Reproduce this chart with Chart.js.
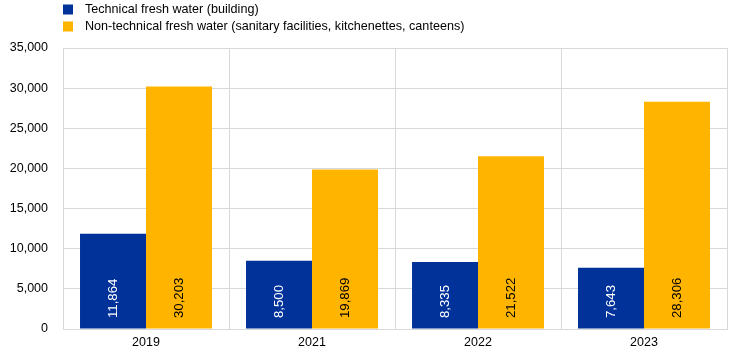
<!DOCTYPE html>
<html><head><meta charset="utf-8">
<script src="https://cdn.jsdelivr.net/npm/chart.js@4"></script>
<style>html,body{margin:0;padding:0;background:#fff}#wrap{width:744px;height:356px}</style>
</head><body><div id="wrap"><canvas id="c"></canvas></div>
<script>
const categories = ["2019", "2021", "2022", "2023"];
const technical = [11864, 8500, 8335, 7643];
const nonTechnical = [30203, 19869, 21522, 28306];
const seriesLabels = ["Technical fresh water (building)", "Non-technical fresh water (sanitary facilities, kitchenettes, canteens)"];
const yTicks = [0, 5000, 10000, 15000, 20000, 25000, 30000, 35000];

const FONT = "'Liberation Sans', Arial, sans-serif";
const fmt = v => v.toLocaleString('en-US');

const legendPlugin = {
  id: 'customLegend',
  afterDraw(chart) {
    const ctx = chart.ctx;
    ctx.save();
    ctx.font = "12.6px " + FONT;
    ctx.textBaseline = 'middle';
    chart.data.datasets.forEach((ds, i) => {
      const y = 9.5 + i * 17;
      ctx.fillStyle = ds.backgroundColor;
      ctx.fillRect(63, y - 5, 10, 10);
      ctx.fillStyle = '#000';
      ctx.textAlign = 'left';
      ctx.fillText(ds.label, 85, y);
    });
    ctx.restore();
  }
};

const labelPlugin = {
  id: 'barLabels',
  afterDatasetsDraw(chart) {
    const ctx = chart.ctx;
    const yScale = chart.scales.y;
    ctx.save();
    ctx.font = "13.2px " + FONT;
    ctx.textBaseline = 'middle';
    chart.data.datasets.forEach((ds, di) => {
      const meta = chart.getDatasetMeta(di);
      meta.data.forEach((bar, i) => {
        ctx.save();
        ctx.translate(bar.x, yScale.getPixelForValue(0) - 11);
        ctx.rotate(-Math.PI / 2);
        ctx.textAlign = 'left';
        ctx.fillStyle = di === 0 ? '#fff' : '#000';
        ctx.fillText(fmt(ds.data[i]), 0, 0);
        ctx.restore();
      });
    });
    ctx.restore();
  }
};

new Chart(document.getElementById('c'), {
  type: 'bar',
  data: {
    labels: categories,
    datasets: [
      { label: seriesLabels[0], data: technical, backgroundColor: '#003299' },
      { label: seriesLabels[1], data: nonTechnical, backgroundColor: '#FFB400' }
    ]
  },
  options: {
    responsive: true,
    maintainAspectRatio: false,
    animation: false,
    layout: { padding: { top: 48, right: 17, left: 0, bottom: 0 } },
    plugins: { legend: { display: false }, tooltip: { enabled: false } },
    datasets: { bar: { categoryPercentage: 0.795, barPercentage: 1.0 } },
    scales: {
      x: {
        grid: { color: '#d9d9d9', lineWidth: 1, drawTicks: false, offset: true },
        border: { color: '#d9d9d9' },
        ticks: { color: '#000', font: { family: FONT, size: 12.5 }, padding: 6 }
      },
      y: {
        min: 0, max: 35000,
        afterFit(scale) { scale.width = 63; },
        afterBuildTicks(scale) { scale.ticks = yTicks.map(v => ({ value: v })); },
        grid: { color: '#d9d9d9', lineWidth: 1, drawTicks: false },
        border: { color: '#d9d9d9' },
        ticks: { color: '#000', font: { family: FONT, size: 12.5 }, padding: 15, callback: v => fmt(v) }
      }
    }
  },
  plugins: [legendPlugin, labelPlugin]
});
</script></body></html>
